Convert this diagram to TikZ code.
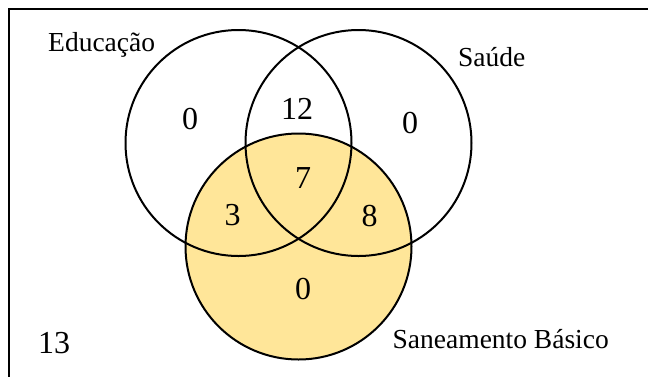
\documentclass[tikz,border=0pt]{standalone}
\usepackage{fontspec}
\setmainfont{Liberation Serif}
\usepackage{xcolor}
\usepackage{tikz}
\usetikzlibrary{positioning}

\definecolor{setfill}{HTML}{FFE699}

\begin{document}
\begin{tikzpicture}[
  x=1pt, y=-1pt,
  set/.style={circle, draw, line width=2pt, minimum size=226pt, inner sep=0pt},
  setname/.style={anchor=base west, inner sep=0pt, font=\fontsize{27.5}{30}\selectfont},
  count/.style={inner sep=0pt, font=\fontsize{32}{34}\selectfont}
]
  \useasboundingbox (0,0) rectangle (648,376);
  \clip (0,0) rectangle (648,376);
  % frame of the universe
  \draw[line width=2pt] (8.5,8.5) rectangle (680,400);
  % the three sets
  \node[set, fill=setfill] (San) at (298.5,246.5) {};
  \node[set] (Edu) at (238.5,143) {};
  \node[set] (Sau) at (358.5,143) {};
  % names of the sets
  \node[setname] (EduName) at (48,51.7) {Educação};
  \node[setname] (SauName) at (458,66.7) {Saúde};
  \node[setname] (SanName) at (392.5,348.3) {Saneamento Básico};
  % counts of the regions
  \node[count] (nEdu) at (190,119.5) {0};
  \node[count] (nEduSau) at (297,109.2) {12};
  \node[count] (nSau) at (410,123) {0};
  \node[count] (nAll) at (303,178.3) {7};
  \node[count] (nEduSan) at (232.5,215.3) {3};
  \node[count] (nSauSan) at (369.5,215.8) {8};
  \node[count] (nSan) at (303,289.5) {0};
  \node[count] (nOut) at (54.2,342.8) {13};
\end{tikzpicture}
\end{document}
